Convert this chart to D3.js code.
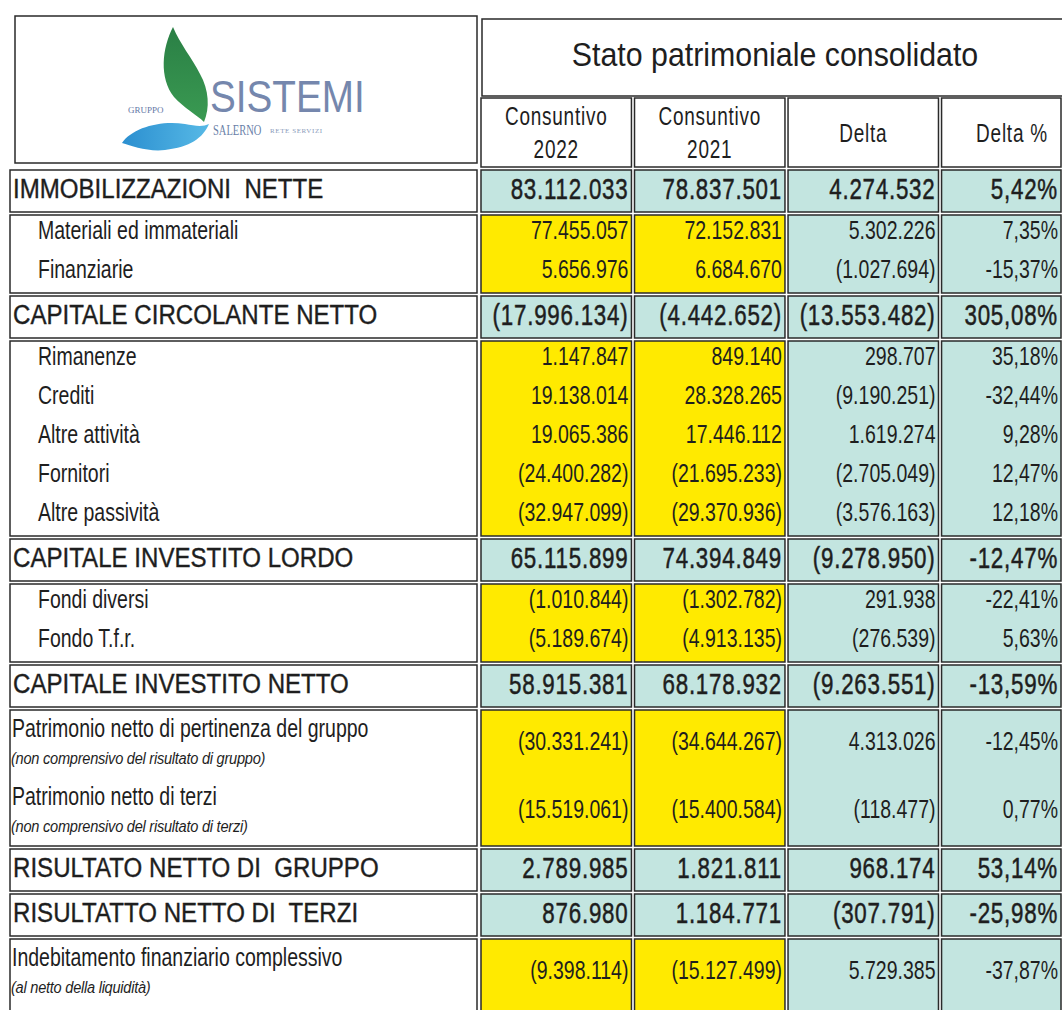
<!DOCTYPE html>
<html>
<head>
<meta charset="utf-8">
<script src="https://cdn.jsdelivr.net/npm/d3@7"></script>
<style>
  body { margin: 0; background: #fff; }
  svg text { font-family: "Liberation Sans", Arial, sans-serif; fill: #1e1e1e; white-space: pre; }
</style>
</head>
<body>
<div id="chart"></div>
<script>
// ---- data ----
const title = "Stato patrimoniale consolidato";
const headers = [["Consuntivo", "2022"], ["Consuntivo", "2021"], ["Delta"], ["Delta %"]];

const labels = [
  "IMMOBILIZZAZIONI  NETTE", "Materiali ed immateriali", "Finanziarie",
  "CAPITALE CIRCOLANTE NETTO", "Rimanenze", "Crediti", "Altre attività", "Fornitori", "Altre passività",
  "CAPITALE INVESTITO LORDO", "Fondi diversi", "Fondo T.f.r.",
  "CAPITALE INVESTITO NETTO", "Patrimonio netto di pertinenza del gruppo", "Patrimonio netto di terzi",
  "RISULTATO NETTO DI  GRUPPO", "RISULTATTO NETTO DI  TERZI", "Indebitamento finanziario complessivo"
];
const notes = [
  "", "", "", "", "", "", "", "", "", "", "", "", "",
  "(non comprensivo del risultato di gruppo)", "(non comprensivo del risultato di terzi)",
  "", "", "(al netto della liquidità)"
];
const kinds = [
  "main", "sub", "sub", "main", "sub", "sub", "sub", "sub", "sub",
  "main", "sub", "sub", "main", "sub", "sub", "main", "main", "sub"
];
const cons2022 = [83112033, 77455057, 5656976, -17996134, 1147847, 19138014, 19065386, -24400282, -32947099,
  65115899, -1010844, -5189674, 58915381, -30331241, -15519061, 2789985, 876980, -9398114];
const cons2021 = [78837501, 72152831, 6684670, -4442652, 849140, 28328265, 17446112, -21695233, -29370936,
  74394849, -1302782, -4913135, 68178932, -34644267, -15400584, 1821811, 1184771, -15127499];
const delta = [4274532, 5302226, -1027694, -13553482, 298707, -9190251, 1619274, -2705049, -3576163,
  -9278950, 291938, -276539, -9263551, 4313026, -118477, 968174, -307791, 5729385];
const deltaPct = [5.42, 7.35, -15.37, 305.08, 35.18, -32.44, 9.28, 12.47, 12.18,
  -12.47, -22.41, 5.63, -13.59, -12.45, 0.77, 53.14, -25.98, -37.87];

// ---- layout ----
const W = 1062, H = 1010;
const teal = "#c3e5e0", yellow = "#ffea00", line = "#2a2a2a";

const it = d3.formatLocale({ decimal: ",", thousands: ".", grouping: [3], currency: ["", "€"], minus: "-" });
const fInt = it.format(",d"), fPct = it.format(",.2f");
const money = v => v < 0 ? "(" + fInt(-v) + ")" : fInt(v);
const pct = v => fPct(v) + "%";

const series = [cons2022, cons2021, delta, deltaPct];

const x = d3.scaleBand().domain(d3.range(4)).range([481, 1092]).paddingInner(0.02);
const cellW = c => Math.min(x(c) + x.bandwidth(), W - 1) - x(c);

// narrow text: no condensed face installed, so squeeze horizontally
const val = (f, d, i) => typeof f === "function" ? f(d, i) : f;
const squeeze = (sel, fx, fy, k) =>
  sel.attr("transform", (d, i) => `translate(${val(fx, d, i)},${val(fy, d, i)}) scale(${val(k, d, i)},1)`);

// row heights
const rows = labels.map((l, i) => ({
  i, label: l, note: notes[i], kind: kinds[i],
  h: kinds[i] === "main" ? 42 : (notes[i] ? (i === labels.length - 1 ? 72 : 68) : 39)
}));

// group consecutive sub rows into blocks
const blocks = [];
rows.forEach(r => {
  const last = blocks[blocks.length - 1];
  if (r.kind === "sub" && last && last.kind === "sub") last.rows.push(r);
  else blocks.push({ kind: r.kind, rows: [r] });
});
let cy = 170;
blocks.forEach(b => {
  b.y = cy;
  b.rows.forEach(r => { r.y = cy; cy += r.h; });
  b.h = cy - b.y;
  cy += 3;
});

const svg = d3.select("#chart").append("svg")
  .attr("width", W).attr("height", H);

// ---- logo box ----
svg.append("rect").attr("x", 15).attr("y", 16).attr("width", 462).attr("height", 147)
  .attr("fill", "#fff").attr("stroke", line).attr("stroke-width", 1.5);
const defs = svg.append("defs");
const gb = defs.append("linearGradient").attr("id", "blue").attr("x1", 0).attr("x2", 1).attr("y1", 0).attr("y2", 0);
gb.append("stop").attr("offset", 0).attr("stop-color", "#2b8fd0");
gb.append("stop").attr("offset", 1).attr("stop-color", "#57b9e6");
const gg = defs.append("linearGradient").attr("id", "green").attr("x1", 0).attr("x2", 0).attr("y1", 0).attr("y2", 1);
gg.append("stop").attr("offset", 0).attr("stop-color", "#2a7f45");
gg.append("stop").attr("offset", 1).attr("stop-color", "#3a9a52");

const logo = svg.append("g");
logo.append("path")
  .attr("d", "M122,143 C132,128 160,120 185,124 C195,126 203,127 209,124 C203,138 190,147 165,150 C148,152 132,146 122,143 Z")
  .attr("fill", "url(#blue)");
logo.append("path")
  .attr("d", "M173,27 C162,48 159,78 174,97 C184,108 197,115 204,122 C210,108 209,90 200,74 C192,58 180,44 173,27 Z")
  .attr("fill", "url(#green)");
logo.append("text").attr("x", 128).attr("y", 113).text("GRUPPO")
  .style("font-family", "Liberation Serif, serif").style("font-size", "9px").style("fill", "#6478a6");
squeeze(logo.append("text").text("SISTEMI"), 210, 112, 0.86)
  .style("font-size", "45px").style("fill", "#7587ad");
squeeze(logo.append("text").text("SALERNO"), 213, 135, 0.75)
  .style("font-family", "Liberation Serif, serif").style("font-size", "14px").style("fill", "#6a7fa8");
logo.append("text").attr("x", 270).attr("y", 133).text("RETE SERVIZI")
  .style("font-family", "Liberation Serif, serif").style("font-size", "7px")
  .style("letter-spacing", "0.6px").style("fill", "#8a9aba");

// ---- title and headers ----
svg.append("rect").attr("x", 482).attr("y", 19).attr("width", 600).attr("height", 77)
  .attr("fill", "#fff").attr("stroke", line).attr("stroke-width", 1.5);
squeeze(svg.append("text").text(title), 775, 66, 0.92)
  .attr("text-anchor", "middle").style("font-size", "33px");

const head = svg.selectAll("g.head").data(headers).enter().append("g").attr("class", "head");
head.append("rect")
  .attr("x", (d, i) => x(i)).attr("y", 98)
  .attr("width", (d, i) => cellW(i)).attr("height", 69)
  .attr("fill", "#fff").attr("stroke", line).attr("stroke-width", 1.5);
head.each(function (d, i) {
  const g = d3.select(this);
  const cx = i === 3 ? 1012 : x(i) + x.bandwidth() / 2;
  d.forEach((t, k) => {
    squeeze(g.append("text").text(t), cx, d.length === 1 ? 142 : 125 + k * 33, 0.76)
      .attr("text-anchor", "middle").style("font-size", "25px").style("letter-spacing", "1px");
  });
});

// ---- body ----
const colRight = c => x(c) + cellW(c) - 3;

blocks.forEach(b => {
  // label box
  svg.append("rect").attr("x", 10).attr("y", b.y).attr("width", 467).attr("height", b.h)
    .attr("fill", "#fff").attr("stroke", line).attr("stroke-width", 1.5);
  // value cells
  d3.range(4).forEach(c => {
    svg.append("rect").attr("x", x(c)).attr("y", b.y)
      .attr("width", cellW(c)).attr("height", b.h)
      .attr("fill", b.kind === "main" ? teal : (c < 2 ? yellow : teal))
      .attr("stroke", line).attr("stroke-width", 1.5);
  });
});

const rowG = svg.selectAll("g.row").data(rows).enter().append("g").attr("class", "row");

// labels
squeeze(rowG.append("text").text(d => d.label),
  d => d.kind === "main" ? 13 : (d.note ? 12 : 38),
  d => d.kind === "main" ? d.y + 28 : (d.note ? d.y + 27 : d.y + 24),
  d => d.kind === "main" ? 0.86 : 0.75)
  .style("font-size", d => d.kind === "main" ? "28px" : "26px")
  .style("stroke", d => d.kind === "main" ? "#1e1e1e" : "none")
  .style("stroke-width", 0.4);

squeeze(rowG.filter(d => d.note).append("text").text(d => d.note),
  11, d => d.y + 54, 0.86)
  .style("font-size", "17px").style("font-style", "italic").style("letter-spacing", "-0.3px");

// values
d3.range(4).forEach(c => {
  squeeze(rowG.append("text").text(d => c === 3 ? pct(series[c][d.i]) : money(series[c][d.i])),
    colRight(c),
    d => d.kind === "main" ? d.y + 29 : (d.note ? d.y + 40 : d.y + 24),
    d => d.kind === "main" ? 0.77 : 0.75)
    .attr("text-anchor", "end")
    .style("font-size", d => d.kind === "main" ? "29px" : "26px")
    .style("letter-spacing", d => d.kind === "main" ? "1px" : "0px")
    .style("stroke", d => d.kind === "main" ? "#1e1e1e" : "none")
    .style("stroke-width", 0.5);
});
</script>
</body>
</html>
